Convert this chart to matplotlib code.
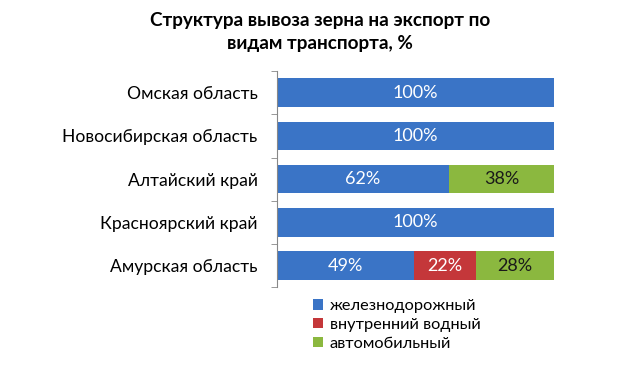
import numpy as np
import matplotlib.pyplot as plt

plt.rcParams['font.family'] = ['Lato', 'DejaVu Sans']

regions = ["Омская область", "Новосибирская область", "Алтайский край",
           "Красноярский край", "Амурская область"]
rail = [100, 100, 62, 100, 49.4]
water = [0, 0, 0, 0, 22.4]
auto = [0, 0, 38, 0, 28.2]
series_names = ["железнодорожный", "внутренний водный", "автомобильный"]
colors = ["#3a74c6", "#c4373a", "#8bb83f"]
text_colors = ["white", "white", "#1a1a1a"]
title = "Структура вывоза зерна на экспорт по\nвидам транспорта, %"

fig = plt.figure(figsize=(6.4, 3.72), dpi=100)
ax = fig.add_axes([0.433, 0.228, 0.433, 0.581])

y = np.arange(len(regions))
left = np.zeros(len(regions))
for vals, name, col, tcol in zip([rail, water, auto], series_names, colors, text_colors):
    vals = np.array(vals, dtype=float)
    ax.barh(y, vals, left=left, height=0.66, color=col, label=name,
            edgecolor="none")
    for yi, l, v in zip(y, left, vals):
        if v > 0:
            ax.text(l + v / 2, yi, f"{v:.0f}%", ha="center", va="center",
                    fontsize=13, color=tcol)
    left += vals

ax.set_xlim(0, 100)
ax.set_ylim(len(regions) - 0.5, -0.5)
ax.set_yticks(y)
ax.set_yticklabels(regions, fontsize=12.6)
ax.set_yticks(np.arange(len(regions) + 1) - 0.5, minor=True)
ax.tick_params(axis="y", which="major", length=0, pad=14)
ax.tick_params(axis="y", which="minor", length=4, color="#888888")
ax.set_xticks([])
for s in ["top", "right", "bottom"]:
    ax.spines[s].set_visible(False)
ax.spines["left"].set_color("#888888")

fig.text(0.5, 0.968, title, ha="center", va="top", fontsize=13.6,
         fontweight="bold", linespacing=1.45)

fig.legend(loc="upper left", bbox_to_anchor=(0.477, 0.218), frameon=False,
           fontsize=11.8, handlelength=0.6, handleheight=0.6, handletextpad=0.4,
           labelspacing=0.3, borderpad=0)

plt.savefig("out.png", dpi=100)
